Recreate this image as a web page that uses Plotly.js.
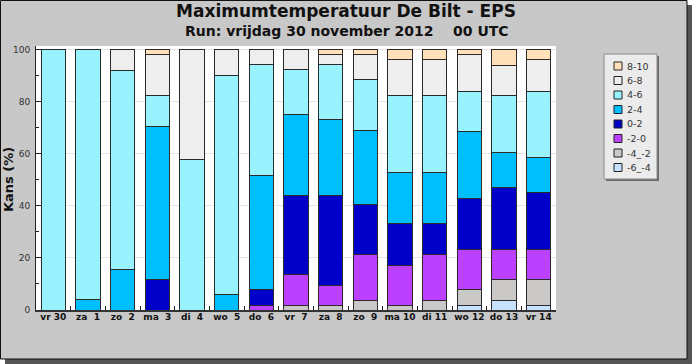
<!DOCTYPE html>
<html>
<head>
<meta charset="utf-8">
<script src="https://cdn.plot.ly/plotly-3.0.1.min.js"></script>
<style>html,body{margin:0;padding:0;background:#fff;}#chart{width:692px;height:364px;}</style>
</head>
<body>
<div id="chart"></div>
<script>
// ---- data ----
const days = ['vr 30','za\u00a0\u00a01','zo\u00a0\u00a02','ma\u00a0\u00a03','di\u00a0\u00a04','wo\u00a0\u00a05','do\u00a0\u00a06','vr\u00a0\u00a07','za\u00a0\u00a08','zo\u00a0\u00a09','ma 10','di 11','wo 12','do 13','vr 14'];
const seriesNames = ['-6_-4','-4_-2','-2-0','0-2','2-4','4-6','6-8','8-10'];
const m6_m4 = [0,0,0,0,0,0,0,0,0,0,0,0,1.9,3.8,1.9];
const m4_m2 = [0,0,0,0,0,0,0,1.9,1.9,3.8,1.9,3.8,5.8,7.9,9.8];
const m2_0  = [0,0,0,0,0,0,1.9,11.6,7.7,17.4,15.4,17.7,15.5,11.5,11.5];
const p0_2  = [0,0,0,11.8,0,0,5.8,30.7,34.6,19.2,15.8,11.6,19.7,24.0,21.8];
const p2_4  = [0,3.9,15.7,58.8,0,5.9,44.2,30.8,28.9,28.8,19.6,19.6,25.7,13.4,13.7];
const p4_6  = [100,96.1,76.5,11.8,57.7,84.3,42.4,17.3,21.2,19.3,29.7,29.7,15.6,21.8,25.5];
const p6_8  = [0,0,7.8,15.7,42.3,9.8,5.7,7.7,3.9,9.7,13.9,13.9,14.0,11.7,12.0];
const p8_10 = [0,0,0,2.0,0,0,0,0,1.8,1.8,3.7,3.7,1.8,5.9,3.8];
const yTickVals = [0,20,40,60,80,100];

// ---- styles ----
const seriesValues = [m6_m4, m4_m2, m2_0, p0_2, p2_4, p4_6, p6_8, p8_10];
const colors = ['#c6e2ff','#cbc8c8','#bb40ff','#0000c8','#00bfff','#99f3ff','#eeeeee','#ffe0b8'];

const W = 692, H = 364, L = 36, R = 136, T = 46, B = 54;
const PW = W - L - R, PH = H - T - B;
const px = v => (v - L) / PW;
const py = v => (H - B - v) / PH;

const traces = seriesValues.map((vals, i) => ({
  type: 'bar', x: days, y: vals, name: seriesNames[i],
  marker: {color: colors[i], line: {color: '#2a2a2a', width: 1}},
  hoverinfo: 'name+y'
}));

const shapes = [
  {type:'rect', xref:'paper', yref:'paper', x0:px(5), x1:px(692), y0:py(364), y1:py(5), fillcolor:'#555555', line:{width:0}, layer:'below'},
  {type:'rect', xref:'paper', yref:'paper', x0:px(0.5), x1:px(687), y0:py(359), y1:py(0.5), fillcolor:'#c8c8c8', line:{color:'#111', width:1}, layer:'below'},
  {type:'rect', xref:'paper', yref:'paper', x0:0, x1:1, y0:0, y1:1, fillcolor:'#ffffff', line:{width:0}, layer:'below'},
  {type:'rect', xref:'paper', yref:'paper', x0:px(606), x1:px(659), y0:py(181), y1:py(56), fillcolor:'#6a6a6a', line:{width:0}, layer:'above'},
  {type:'rect', xref:'paper', yref:'paper', x0:px(604), x1:px(657), y0:py(179), y1:py(54), fillcolor:'#ebebeb', line:{color:'#8a8a8a', width:1}, layer:'above'}
];
const annotations = [
  {xref:'paper', yref:'paper', x:px(347), y:py(31), text:'Run: vrijdag 30 november 2012\u00a0\u00a0\u00a0\u00a000 UTC', showarrow:false,
   xanchor:'center', yanchor:'middle', font:{family:'DejaVu Sans', size:14, weight:'bold', color:'#111'}},
  {xref:'paper', yref:'paper', x:px(8), y:py(180), text:'Kans (%)', textangle:-90, showarrow:false,
   xanchor:'center', yanchor:'middle', font:{family:'DejaVu Sans', size:13, weight:'bold', color:'#111'}}
];
for (let k = 0; k < seriesNames.length; k++) {
  const i = seriesNames.length - 1 - k;
  const cy = 66 + k * 14.5;
  shapes.push({type:'rect', xref:'paper', yref:'paper', x0:px(614), x1:px(622), y0:py(cy + 4), y1:py(cy - 4),
    fillcolor: colors[i], line:{color:'#222', width:1}, layer:'above'});
  annotations.push({xref:'paper', yref:'paper', x:px(625), y:py(cy), text: seriesNames[i], showarrow:false,
    xanchor:'left', yanchor:'middle', font:{family:'DejaVu Sans', size:9.5, color:'#333'}});
}

const layout = {
  width: W, height: H,
  margin: {l: L, r: R, t: T, b: B, pad: 0},
  paper_bgcolor: '#ffffff', plot_bgcolor: '#ffffff',
  barmode: 'stack', bargap: 0.3,
  showlegend: false,
  title: {text: 'Maximumtemperatuur De Bilt - EPS', xref:'container', x: 0.5, xanchor:'center',
          yref:'container', y: 1 - 11/H, yanchor:'middle',
          font: {family: 'DejaVu Sans', size: 17, weight: 'bold', color: '#111'}},
  xaxis: {type:'category', range:[-0.5, 14.5], tickson:'boundaries', ticks:'inside', ticklen:4, tickcolor:'#222',
          showline:true, linecolor:'#333', linewidth:1.5, showgrid:false, zeroline:false, tickangle:0,
          tickfont:{family:'DejaVu Sans', size:9, weight:'bold', color:'#111'}, ticklabelstandoff: -2},
  yaxis: {range:[0, 101.5], tickvals: yTickVals, ticks:'inside', ticklen:5, tickcolor:'#222',
          showline:true, linecolor:'#222', linewidth:1, showgrid:true, gridcolor:'#e4e4e4', gridwidth:1, zeroline:false,
          minor:{dtick:10, tick0:0, ticks:'inside', ticklen:2.5, tickcolor:'#222', showgrid:false},
          tickfont:{family:'DejaVu Sans', size:9, color:'#333'}, ticklabelstandoff: 3},
  shapes: shapes,
  annotations: annotations
};

Plotly.newPlot('chart', traces, layout, {displayModeBar:false, staticPlot:true});
</script>
</body>
</html>
